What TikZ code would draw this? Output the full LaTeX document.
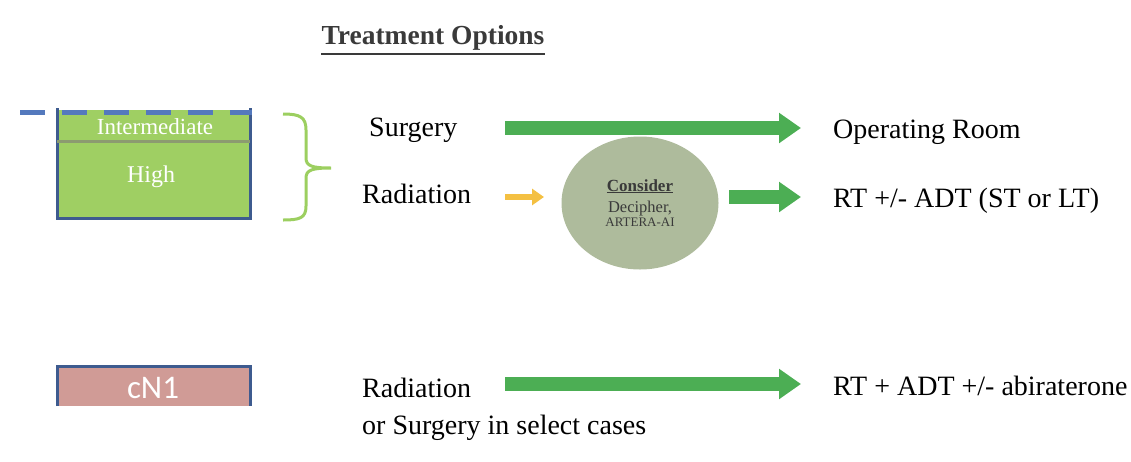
\documentclass[tikz,border=0pt]{standalone}
\usepackage{fontspec}
\setmainfont{Liberation Serif}
\newfontfamily\calfont{Carlito}
\usepackage{xcolor}
\usetikzlibrary{arrows.meta,positioning,calc,shapes.geometric}

\definecolor{boxgreen}{HTML}{9FCF63}
\definecolor{bracegreen}{HTML}{9CCF60}
\definecolor{edgeblue}{HTML}{3E5B8F}
\definecolor{dashblue}{HTML}{5479BD}
\definecolor{divgray}{HTML}{8C9B70}
\definecolor{arrgreen}{HTML}{4CAE54}
\definecolor{arryellow}{HTML}{F4C042}
\definecolor{ovalgray}{HTML}{AEBB9C}
\definecolor{pinkbox}{HTML}{D09B96}
\definecolor{txtgray}{HTML}{3A3A3A}

\begin{document}
\begin{tikzpicture}[x=1pt,y=-1pt,
  txt/.style={font=\fontsize{28}{32}\selectfont,anchor=west,inner sep=0pt},
  bigarr/.style={line width=14pt,arrgreen,-{Triangle[length=22pt,width=29pt]}},
  edge/.style={edgeblue,line width=3pt}]
  \useasboundingbox (0,0) rectangle (1131,461);
  % title
  \node[font=\fontsize{27.5}{30}\selectfont\bfseries,text=txtgray,inner sep=0pt] (title) at (433,38) {Treatment Options};
  \draw[txtgray,line width=2pt] ([yshift=-3pt]title.south west) -- ([yshift=-3pt]title.south east);
  % risk box
  \fill[boxgreen] (57,110) rectangle (250,218);
  \draw[edge] (57,108) -- (57,218) -- (250,218) -- (250,108);
  \draw[divgray,line width=3pt] (57,141) -- (250,141);
  \draw[dashblue,line width=5pt,dash pattern=on 25pt off 17pt] (20,112) -- (252,112);
  \node[font=\fontsize{23}{25}\selectfont,text=white] (int) at (155,127) {Intermediate};
  \node[font=\fontsize{24}{26}\selectfont,text=white] (high) at (151,177) {High};
  \draw[bracegreen,line width=3pt] (283,114) .. controls (300,114) and (306,117) .. (306,130)
    -- (306,158) .. controls (306,166) and (312,168) .. (331,168)
    (331,168) .. controls (312,168) and (306,170) .. (306,178)
    -- (306,206) .. controls (306,218) and (300,220) .. (283,220);
  % options
  \node[txt] (surg) at (369,130) {Surgery};
  \node[txt] (rad) at (362,194) {Radiation};
  \node[ellipse,fill=ovalgray,minimum width=157pt,minimum height=133pt,inner sep=0pt,align=center,text=txtgray] (cons) at (640,203)
    {\fontsize{17}{19}\selectfont\bfseries\underline{Consider}\\[7pt]
     \fontsize{16.5}{17}\selectfont Decipher,\\[1pt]
     \fontsize{13}{14}\selectfont ARTERA-AI};
  \node[txt] (orm) at (833,132) {Operating Room};
  \node[txt] (rt) at (833,201) {RT +/- ADT (ST or LT)};
  \coordinate (a1) at (505,128);
  \coordinate (b1) at (801,128);
  \draw[bigarr] (a1) -- (b1);
  \coordinate (a2) at (505,197);
  \coordinate (b2) at (544,197);
  \draw[line width=6pt,arryellow,-{Triangle[length=12pt,width=16pt]}] (a2) -- (b2);
  \coordinate (a3) at (729,197);
  \coordinate (b3) at (801,197);
  \draw[bigarr] (a3) -- (b3);
  % node positive
  \fill[pinkbox] (57,366) rectangle (250,406);
  \draw[edge] (57,406) -- (57,366) -- (250,366) -- (250,406);
  \node[font=\calfont\fontsize{33}{36}\selectfont,text=white] (cn) at (153,388) {cN1};
  \node[txt] (rad2) at (362,388) {Radiation};
  \node[txt] (surg2) at (362,428) {or Surgery in select cases};
  \node[txt] (abi) at (833,386) {RT + ADT +/- abiraterone};
  \coordinate (a4) at (505,384);
  \coordinate (b4) at (801,384);
  \draw[bigarr] (a4) -- (b4);
\end{tikzpicture}
\end{document}
